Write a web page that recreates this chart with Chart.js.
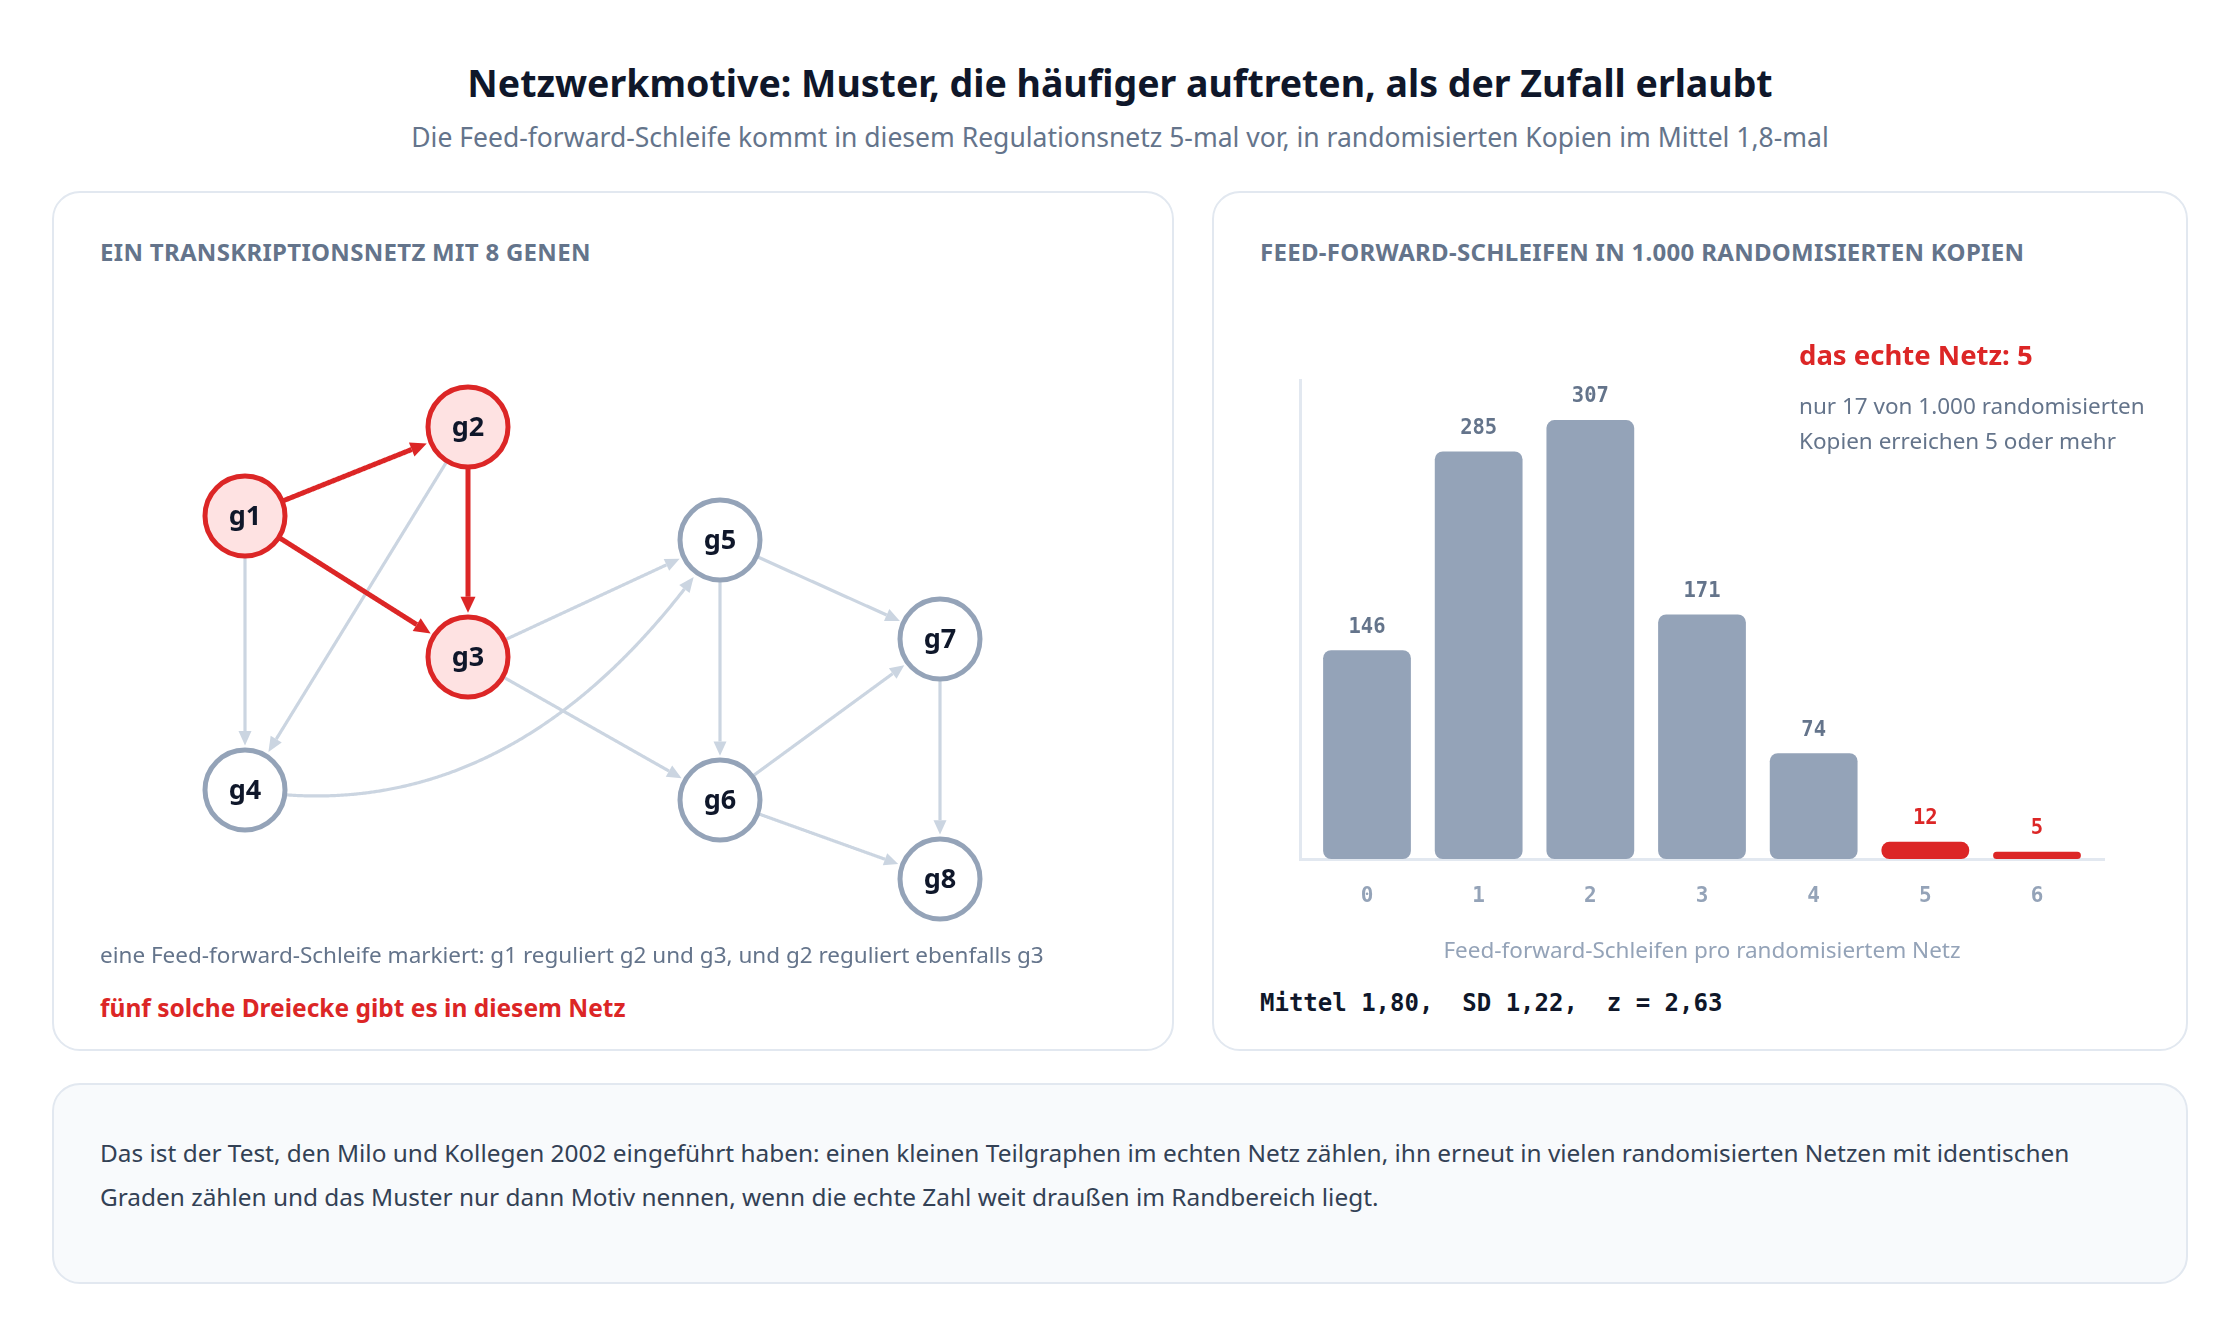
<!DOCTYPE html>
<html lang="de">
<head>
<meta charset="utf-8">
<title>Netzwerkmotive</title>
<script src="https://cdn.jsdelivr.net/npm/chart.js@4.4.1/dist/chart.umd.min.js"></script>
<style>
  html, body { margin: 0; padding: 0; background: #ffffff; }
  body { width: 2240px; height: 1320px; position: relative; overflow: hidden; font-family: 'Noto Sans', sans-serif; }
  .abs { position: absolute; white-space: nowrap; }
  .card { position: absolute; box-sizing: border-box; border: 2px solid #e2e8f0; border-radius: 28px; background: #ffffff; }
  .title { left: 0; width: 2240px; top: 59px; line-height: 48px; text-align: center; font-size: 37.5px; font-weight: 700; color: #0f172a; }
  .subtitle { left: 0; width: 2240px; top: 120px; line-height: 34px; text-align: center; font-size: 26.5px; color: #64748b; }
  .heading { top: 237px; line-height: 30px; font-size: 24px; font-weight: 700; color: #64748b; letter-spacing: 0.3px; }
  .caption { left: 100px; top: 940px; line-height: 30px; font-size: 22.5px; color: #64748b; }
  .red { color: #dc2626; font-weight: 700; }
  .mono { font-family: 'DejaVu Sans Mono', monospace; white-space: pre; }
  canvas { position: absolute; }
</style>
</head>
<body>

<div class="abs title">Netzwerkmotive: Muster, die häufiger auftreten, als der Zufall erlaubt</div>
<div class="abs subtitle">Die Feed-forward-Schleife kommt in diesem Regulationsnetz 5-mal vor, in randomisierten Kopien im Mittel 1,8-mal</div>

<div class="card" style="left:52px; top:191px; width:1122px; height:860px;"></div>
<div class="card" style="left:1212px; top:191px; width:976px; height:860px;"></div>
<div class="card" style="left:52px; top:1083px; width:2136px; height:201px; background:#f8fafc;"></div>

<div class="abs heading" style="left:100px;">EIN TRANSKRIPTIONSNETZ MIT 8 GENEN</div>
<div class="abs heading" style="left:1260px;">FEED-FORWARD-SCHLEIFEN IN 1.000 RANDOMISIERTEN KOPIEN</div>

<canvas id="net" width="1100" height="620" style="left:60px; top:330px;"></canvas>
<div class="abs caption">eine Feed-forward-Schleife markiert: g1 reguliert g2 und g3, und g2 reguliert ebenfalls g3</div>
<div class="abs red" style="left:100px; top:992px; line-height:32px; font-size:24.5px;">fünf solche Dreiecke gibt es in diesem Netz</div>

<canvas id="hist" width="904" height="639" style="left:1240px; top:340px;"></canvas>
<div class="abs red" style="left:1799px; top:338px; line-height:34px; font-size:27.5px;">das echte Netz: 5</div>
<div class="abs" style="left:1799px; top:388px; line-height:35px; font-size:22.5px; color:#64748b;">nur 17 von 1.000 randomisierten<br>Kopien erreichen 5 oder mehr</div>
<div class="abs mono" style="left:1260px; top:987px; line-height:32px; font-size:24px; font-weight:700; color:#0f172a;">Mittel 1,80,  SD 1,22,  z = 2,63</div>

<div class="abs" style="left:100px; top:1131px; line-height:44px; font-size:24.4px; color:#334155;">Das ist der Test, den Milo und Kollegen 2002 eingeführt haben: einen kleinen Teilgraphen im echten Netz zählen, ihn erneut in vielen randomisierten Netzen mit identischen<br>Graden zählen und das Muster nur dann Motiv nennen, wenn die echte Zahl weit draußen im Randbereich liegt.</div>

<script>
// Histogram: feed-forward loops per randomised network (1,000 copies)
const loopCounts = [0, 1, 2, 3, 4, 5, 6];
const copyCounts = [146, 285, 307, 171, 74, 12, 5];
const realLoops = 5;

// Network: 8 genes, layout coordinates in canvas units
const geneNames = ['g1', 'g2', 'g3', 'g4', 'g5', 'g6', 'g7', 'g8'];
const geneX = [185, 408, 408, 185, 660, 660, 880, 880];
const geneY = [186, 97, 327, 460, 210, 470, 309, 549];
const motifGenes = ['g1', 'g2', 'g3'];

// Regulation edges (from -> to)
const edgeFrom = ['g1', 'g2', 'g3', 'g3', 'g4', 'g5', 'g5', 'g6', 'g6', 'g7', 'g1', 'g1', 'g2'];
const edgeTo   = ['g4', 'g4', 'g5', 'g6', 'g5', 'g6', 'g7', 'g7', 'g8', 'g8', 'g2', 'g3', 'g3'];
const curvedEdge = 'g4>g5';
const curveVia = [460, 505];

const RED = '#dc2626';
const SLATE = '#94a3b8';
const EDGE_GREY = '#cbd5e1';
const NODE_R = 40;

function isMotif(name) { return motifGenes.includes(name); }

function drawArrowEdge(ctx, p0, c, p2, r0, r1, color, width, headLen, headHalf) {
    const N = 400;
    const pts = [];
    for (let i = 0; i <= N; i++) {
        const t = i / N, u = 1 - t;
        pts.push({
            x: u * u * p0.x + 2 * u * t * c.x + t * t * p2.x,
            y: u * u * p0.y + 2 * u * t * c.y + t * t * p2.y
        });
    }
    const d = (a, b) => Math.hypot(a.x - b.x, a.y - b.y);
    let s = 0;
    while (s < N && d(pts[s], p0) < r0) s++;
    let e = N;
    while (e > s && d(pts[e], p2) < r1) e--;
    const tip = pts[e];
    let b = e;
    while (b > s && d(pts[b], tip) < headLen) b--;
    const base = pts[b];

    ctx.save();
    ctx.strokeStyle = color;
    ctx.lineWidth = width;
    ctx.lineCap = 'butt';
    ctx.beginPath();
    ctx.moveTo(pts[s].x, pts[s].y);
    for (let i = s + 1; i <= b; i++) ctx.lineTo(pts[i].x, pts[i].y);
    ctx.stroke();

    const len = d(tip, base) || 1;
    const ux = (tip.x - base.x) / len, uy = (tip.y - base.y) / len;
    ctx.fillStyle = color;
    ctx.beginPath();
    ctx.moveTo(tip.x, tip.y);
    ctx.lineTo(base.x - uy * headHalf, base.y + ux * headHalf);
    ctx.lineTo(base.x + uy * headHalf, base.y - ux * headHalf);
    ctx.closePath();
    ctx.fill();
    ctx.restore();
}

const edgePlugin = {
    id: 'edges',
    beforeDatasetsDraw(chart) {
        const {ctx} = chart;
        const sx = chart.scales.x, sy = chart.scales.y;
        const pos = name => {
            const i = geneNames.indexOf(name);
            return {x: sx.getPixelForValue(geneX[i]), y: sy.getPixelForValue(geneY[i])};
        };
        edgeFrom.forEach((from, k) => {
            const to = edgeTo[k];
            const p0 = pos(from), p2 = pos(to);
            let c = {x: (p0.x + p2.x) / 2, y: (p0.y + p2.y) / 2};
            if (from + '>' + to === curvedEdge) {
                c = {x: sx.getPixelForValue(curveVia[0]), y: sy.getPixelForValue(curveVia[1])};
            }
            if (isMotif(from) && isMotif(to)) {
                drawArrowEdge(ctx, p0, c, p2, NODE_R, NODE_R + 4, RED, 5, 16, 7.5);
            } else {
                drawArrowEdge(ctx, p0, c, p2, NODE_R, NODE_R + 4, EDGE_GREY, 3.2, 14, 6.5);
            }
        });
    },
    afterDatasetsDraw(chart) {
        const {ctx} = chart;
        const meta = chart.getDatasetMeta(0);
        ctx.save();
        ctx.font = "bold 27px 'Noto Sans'";
        ctx.fillStyle = '#0f172a';
        ctx.textAlign = 'center';
        ctx.textBaseline = 'middle';
        meta.data.forEach((pt, i) => {
            ctx.fillText(geneNames[i], pt.x, pt.y + 1);
        });
        ctx.restore();
    }
};

new Chart(document.getElementById('net'), {
    type: 'scatter',
    data: {
        datasets: [{
            data: geneNames.map((n, i) => ({x: geneX[i], y: geneY[i]})),
            pointRadius: NODE_R,
            pointHoverRadius: NODE_R,
            pointBorderWidth: 5,
            backgroundColor: geneNames.map(n => isMotif(n) ? '#fee2e2' : '#ffffff'),
            borderColor: geneNames.map(n => isMotif(n) ? RED : SLATE),
            clip: false
        }]
    },
    options: {
        responsive: false,
        animation: false,
        events: [],
        layout: { padding: 0, autoPadding: false },
        plugins: { legend: { display: false }, tooltip: { enabled: false } },
        scales: {
            x: { type: 'linear', min: 0, max: 1100, display: false },
            y: { type: 'linear', min: 0, max: 620, reverse: true, display: false }
        }
    },
    plugins: [edgePlugin]
});

const valueLabels = {
    id: 'valueLabels',
    afterDatasetsDraw(chart) {
        const {ctx} = chart;
        const meta = chart.getDatasetMeta(0);
        ctx.save();
        ctx.font = "bold 20.5px 'DejaVu Sans Mono'";
        ctx.textAlign = 'center';
        ctx.textBaseline = 'middle';
        meta.data.forEach((bar, i) => {
            ctx.fillStyle = loopCounts[i] >= realLoops ? RED : '#64748b';
            ctx.fillText(String(copyCounts[i]), bar.x, bar.y - 23);
        });
        ctx.restore();
    }
};

new Chart(document.getElementById('hist'), {
    type: 'bar',
    data: {
        datasets: [{
            data: loopCounts.map((c, i) => ({x: c, y: copyCounts[i]})),
            backgroundColor: loopCounts.map(c => c >= realLoops ? RED : SLATE),
            borderRadius: 8,
            borderSkipped: false,
            barPercentage: 0.786,
            categoryPercentage: 1
        }]
    },
    options: {
        responsive: false,
        animation: false,
        events: [],
        layout: { padding: { left: 60, top: 40, right: 40, bottom: 0 }, autoPadding: false },
        plugins: { legend: { display: false }, tooltip: { enabled: false } },
        scales: {
            x: {
                type: 'linear',
                min: -0.6,
                max: 6.6,
                offset: false,
                grid: { display: false, drawTicks: false },
                border: { display: true, color: '#e2e8f0', width: 3 },
                afterBuildTicks: scale => { scale.ticks = loopCounts.map(v => ({value: v})); },
                afterFit: scale => { scale.height = 120; },
                ticks: {
                    color: SLATE,
                    padding: 25,
                    font: { family: 'DejaVu Sans Mono', size: 21, weight: 'bold' }
                },
                title: {
                    display: true,
                    text: 'Feed-forward-Schleifen pro randomisiertem Netz',
                    color: SLATE,
                    padding: { top: 0, bottom: 14 },
                    font: { family: 'Noto Sans', size: 22.5 }
                }
            },
            y: {
                min: 0,
                max: 335,
                grid: { display: false, drawTicks: false },
                border: { display: true, color: '#e2e8f0', width: 3 },
                ticks: { display: false },
                afterFit: scale => { scale.width = 0; }
            }
        }
    },
    plugins: [valueLabels]
});
</script>
</body>
</html>
